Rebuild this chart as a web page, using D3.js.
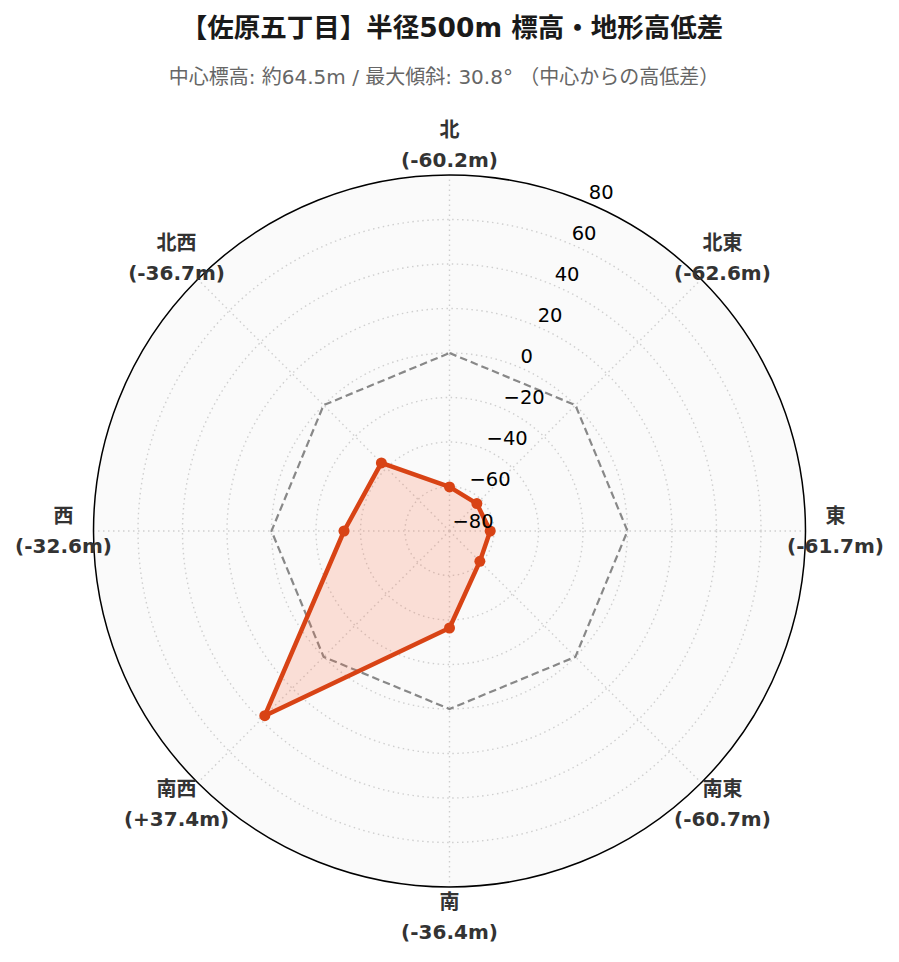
<!DOCTYPE html>
<html><head><meta charset="utf-8">
<script src="https://cdn.jsdelivr.net/npm/d3@7"></script>
<style>body{margin:0;background:#fff}</style>
</head><body>
<svg id="c" width="899" height="962"></svg>
<script>
const directions = ["北","北東","東","南東","南","南西","西","北西"];
const diffs = [-60.2,-62.6,-61.7,-60.7,-36.4,37.4,-32.6,-36.7];
const diffLabels = ["(-60.2m)","(-62.6m)","(-61.7m)","(-60.7m)","(-36.4m)","(+37.4m)","(-32.6m)","(-36.7m)"];
const radialTicks = [-80,-60,-40,-20,0,20,40,60,80];
const referenceLevel = 0;
const titleText = "【佐原五丁目】半径500m 標高・地形高低差";
const subtitleText = "中心標高: 約64.5m / 最大傾斜: 30.8° （中心からの高低差）";

const font = "'DejaVu Sans','Noto Sans CJK JP',sans-serif";
const svg = d3.select("#c");
const cx = 449.5, cy = 531, R = 356;
const r = d3.scaleLinear().domain([-80,80]).range([0,R]);
const ang = d3.scaleLinear().domain([0,directions.length]).range([0,2*Math.PI]);
const pt = (a, rad) => [cx + rad*Math.sin(a), cy - rad*Math.cos(a)];

svg.append("text").attr("x",452).attr("y",27).attr("text-anchor","middle").attr("dominant-baseline","central")
  .attr("font-family",font).attr("font-weight","bold").attr("font-size",26.5).attr("fill","#1a1a1a").text(titleText);
svg.append("text").attr("x",444).attr("y",77).attr("text-anchor","middle").attr("dominant-baseline","central")
  .attr("font-family",font).attr("font-size",20).attr("fill","#666").text(subtitleText);

const g = svg.append("g");
g.append("circle").attr("cx",cx).attr("cy",cy).attr("r",R).attr("fill","#fafafa");
radialTicks.slice(1,-1).forEach(t=>{
  g.append("circle").attr("cx",cx).attr("cy",cy).attr("r",r(t)).attr("fill","none")
   .attr("stroke","#cfcfcf").attr("stroke-width",1.4).attr("stroke-dasharray","1.5,3.5");
});
directions.forEach((d,i)=>{
  const p = pt(ang(i), R);
  g.append("line").attr("x1",cx).attr("y1",cy).attr("x2",p[0]).attr("y2",p[1])
   .attr("stroke","#cfcfcf").attr("stroke-width",1.4).attr("stroke-dasharray","1.5,3.5");
});
g.append("circle").attr("cx",cx).attr("cy",cy).attr("r",R).attr("fill","none").attr("stroke","#000").attr("stroke-width",1.5);

const radial = d3.lineRadial().angle((d,i)=>ang(i)).radius(d=>r(d)).curve(d3.curveLinearClosed);
g.append("path").attr("transform",`translate(${cx},${cy})`)
  .attr("d",radial(directions.map(()=>referenceLevel)))
  .attr("fill","none").attr("stroke","#888").attr("stroke-width",2.2).attr("stroke-dasharray","7.5,4");

g.append("path").attr("transform",`translate(${cx},${cy})`)
  .attr("d",radial(diffs))
  .attr("fill","rgba(250,110,70,0.2)").attr("stroke","#d84315").attr("stroke-width",4.5).attr("stroke-linejoin","round");
diffs.forEach((v,i)=>{
  const p = pt(ang(i), r(v));
  g.append("circle").attr("cx",p[0]).attr("cy",p[1]).attr("r",5.5).attr("fill","#d84315");
});

const la = Math.PI/8;
radialTicks.forEach(t=>{
  const p = pt(la, r(t));
  g.append("text").attr("x",p[0]+3).attr("y",p[1]-10).attr("dominant-baseline","central")
   .attr("font-family",font).attr("font-size",19.5).attr("fill","#000").text(String(t).replace("-","\u2212"));
});

directions.forEach((d,i)=>{
  const p = pt(ang(i), 386);
  const t = g.append("text").attr("text-anchor","middle").attr("font-family",font)
    .attr("font-weight","bold").attr("font-size",20).attr("fill","#333");
  t.append("tspan").attr("x",p[0]).attr("y",p[1]-15).attr("dominant-baseline","central").text(d);
  t.append("tspan").attr("x",p[0]).attr("y",p[1]+15).attr("dominant-baseline","central").text(diffLabels[i]);
});
</script>
</body></html>
